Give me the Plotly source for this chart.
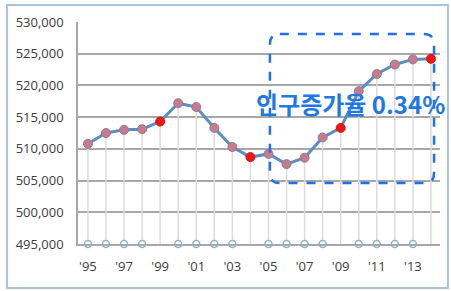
import plotly.graph_objects as go

years = list(range(1995, 2015))
population = [510800, 512500, 513000, 513100, 514300, 517200, 516600, 513300,
              510300, 508700, 509200, 507600, 508600, 511800, 513300, 519100,
              521800, 523300, 524100, 524200]
highlight_years = [1999, 2004, 2009, 2014]
baseline_value = 495000
tick_years = list(range(1995, 2015, 2))
tick_labels = ["'95", "'97", "'99", "'01", "'03", "'05", "'07", "'09", "'11", "'13"]
y_ticks = list(range(495000, 530001, 5000))
annotation_text = "인구증가율 0.34%"

normal_x = [y for y in years if y not in highlight_years]
normal_v = [v for y, v in zip(years, population) if y not in highlight_years]
hi_x = [y for y in years if y in highlight_years]
hi_v = [v for y, v in zip(years, population) if y in highlight_years]
base_x = normal_x
base_v = [baseline_value] * len(base_x)

fig = go.Figure()

# drop lines from each point down to the baseline
fig.add_trace(go.Scatter(
    x=years, y=population, mode="markers",
    marker=dict(size=1, opacity=0),
    error_y=dict(type="data", symmetric=False,
                 array=[0] * len(years),
                 arrayminus=[v - baseline_value for v in population],
                 width=0, thickness=1.5, color="#dcdcdc"),
    hoverinfo="skip", showlegend=False))

# baseline hollow markers
fig.add_trace(go.Scatter(
    x=base_x, y=base_v, mode="markers",
    marker=dict(size=7, color="white", line=dict(color="#8db4c4", width=1.5)),
    cliponaxis=False, showlegend=False))

# main line
fig.add_trace(go.Scatter(
    x=years, y=population, mode="lines",
    line=dict(color="#5b8ec2", width=3),
    showlegend=False))

# normal markers
fig.add_trace(go.Scatter(
    x=normal_x, y=normal_v, mode="markers",
    marker=dict(size=9, color="#c87a8e", line=dict(color="#8d7c98", width=1)),
    showlegend=False))

# highlighted markers
fig.add_trace(go.Scatter(
    x=hi_x, y=hi_v, mode="markers",
    marker=dict(size=9, color="#f01616", line=dict(color="#e01010", width=1)),
    cliponaxis=False, showlegend=False))

# dashed rounded box (in axis units)
x0, x1 = 2005.08, 2014.17
y0, y1 = 504600, 528100
rx, ry = 0.55, 1600
path = (f"M {x0+rx},{y1} L {x1-rx},{y1} Q {x1},{y1} {x1},{y1-ry} "
        f"L {x1},{y0+ry} Q {x1},{y0} {x1-rx},{y0} L {x0+rx},{y0} "
        f"Q {x0},{y0} {x0},{y0+ry} L {x0},{y1-ry} Q {x0},{y1} {x0+rx},{y1} Z")
fig.add_shape(type="path", path=path, xref="x", yref="y",
              line=dict(color="#1f6ff0", width=2.5, dash="dash"),
              layer="above")

# outer frame
fig.add_shape(type="rect", xref="paper", yref="paper",
              x0=-0.196, x1=1.022, y0=-0.198, y1=1.0766,
              line=dict(color="#a9c3df", width=2))

fig.add_annotation(text=f"<b>{annotation_text}</b>", xref="paper", yref="paper",
                   x=0.485, y=0.631, xanchor="left", yanchor="middle",
                   showarrow=False,
                   font=dict(family="Noto Sans CJK KR", size=24, color="#1f78e6"))

fig.update_layout(
    width=451, height=291,
    margin=dict(l=78, r=11, t=22, b=47),
    paper_bgcolor="white", plot_bgcolor="white",
    font=dict(family="Open Sans", size=12, color="#3c3c3c"),
    xaxis=dict(range=[1994.45, 2014.5], tickmode="array",
               tickvals=tick_years, ticktext=tick_labels,
               showgrid=False, zeroline=False, showline=True,
               linecolor="#a8a8a8", linewidth=1.5, ticks="",
               tickfont=dict(size=13), ticklabelstandoff=10,
               automargin=False),
    yaxis=dict(range=[495000, 530000], tickmode="array", tickvals=y_ticks,
               tickformat=",d", showgrid=True, gridcolor="#a8a8a8",
               gridwidth=1.5, zeroline=False, showline=True,
               linecolor="#a8a8a8", linewidth=1.5, ticks="",
               tickfont=dict(size=13), ticklabelstandoff=10,
               automargin=False),
)

fig.write_html("out.html",
               config={"displayModeBar": False},
               post_script="document.body.style.margin='0';"
                           "document.body.style.overflow='hidden';")
